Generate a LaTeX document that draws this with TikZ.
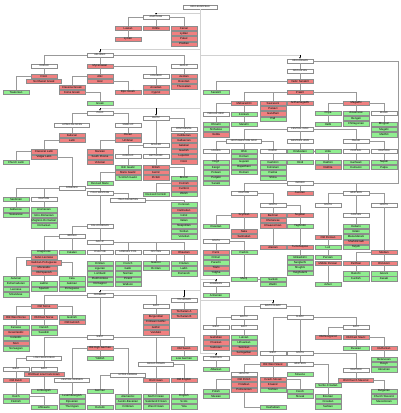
\documentclass[tikz,border=0pt]{standalone}
\usepackage{fontspec}
\setmainfont{Liberation Sans}
\usetikzlibrary{arrows.meta}
\definecolor{dead}{RGB}{240,128,128}
\definecolor{live}{RGB}{144,238,144}
\begin{document}
\begin{tikzpicture}[x=1mm,y=-1mm,
    box/.style={draw=black!45,line width=0.25mm,minimum width=26.5mm,
      minimum height=4.5mm,inner sep=0.2mm,font=\fontsize{8}{9}\selectfont},
    dead/.style={box,fill=dead},
    live/.style={box,fill=live},
    group/.style={box,fill=white,font=\fontsize{6.5}{7}\selectfont},
    wide/.style={minimum width=35mm},
    link/.style={draw=black!40,line width=0.3mm},
    trunk/.style={draw=black!18,line width=0.8mm},
    drop/.style={draw=black,line width=0.25mm,-{Triangle[length=1.4mm,width=1.4mm]}}]
  \fill[white] (0,0) rectangle (400,413);

  \node[group,minimum width=34mm] (root) at (200,7) {INDO-EUROPEAN};
  \coordinate (anat-in) at (156,13);
  \coordinate (hell-in) at (100,49);
  \coordinate (ii-in) at (300,55);
  \coordinate (ital-in) at (100,108);
  \coordinate (celt-in) at (156,108);
  \coordinate (arm-in) at (216,279);
  \coordinate (germ-in) at (100,290);
  \coordinate (toch-in) at (184,290);
  \coordinate (bs-in) at (273,300);
  \coordinate (alb-in) at (216,353);
  \coordinate (trunk-end) at (200,353);
  \draw[trunk] (root.south) -- (trunk-end) -- (alb-in);
  \draw[trunk] (root.south |- anat-in) -- (anat-in);
  \draw[trunk] (root.south |- hell-in) -- (hell-in);
  \draw[trunk] (root.south |- ii-in) -- (ii-in);
  \draw[trunk] (root.south |- ital-in) -- (ital-in);
  \draw[trunk] (root.south |- arm-in) -- (arm-in);
  \draw[trunk] (root.south |- germ-in) -- (germ-in);
  \draw[trunk] (root.south |- bs-in) -- (bs-in);

  % Anatolian
  \node[group] (anatolian) at (156,17) {ANATOLIAN};
  \node[dead] (luwian) at (128,28) {Luwian};
  \node[dead] (hittite) at (156,28) {Hittite};
  \node[dead] (lycian) at (128,39) {Lycian};
  \foreach \cl/\lb [count=\i from 0] in {dead/Carian,dead/Lydian,dead/Palaic,dead/Pisidian}
    \node[box,fill=\cl] (carian-\i) at (184,{28+5.3*\i}) {\lb};
  \draw[drop] (anat-in) -- (anatolian);
  \draw[link] (anatolian) -- (hittite);
  \draw[link] (anatolian.west) -| (luwian);
  \draw[link] (anatolian.east) -| (carian-0);
  \draw[link] (luwian) -- (lycian);

  % Hellenic
  \node[group] (hellenic) at (100,55) {HELLENIC};
  \node[group] (dorian) at (44,66) {DORIAN};
  \node[dead] (mycenaean) at (100,66) {Mycenaean};
  \node[group] (aeolic) at (184,66) {AEOLIC};
  \node[group] (achaean) at (156,76) {ACHAEAN};
  \node[dead] (doric) at (44,76) {Doric};
  \node[dead,wide] (nwgreek) at (44,81.3) {Northwest Greek};
  \node[live] (tsakonian) at (16,92) {Tsakonian};
  \foreach \cl/\lb [count=\i from 0] in {dead/Attic,dead/Ionic}
    \node[box,fill=\cl] (attic-\i) at (100,{76+5.3*\i}) {\lb};
  \foreach \cl/\lb [count=\i from 0] in {dead/Classical Greek,dead/Koine Greek}
    \node[box,fill=\cl] (koine-\i) at (72,{87+5.3*\i}) {\lb};
  \node[dead] (epic) at (128,92) {Epic Greek};
  \node[live] (greek) at (100,103) {Greek};
  \foreach \cl/\lb [count=\i from 0] in {dead/Arcadian,dead/Cypriot}
    \node[box,fill=\cl] (arcadian-\i) at (156,{87+5.3*\i}) {\lb};
  \foreach \cl/\lb [count=\i from 0] in {dead/Aeolian,dead/Boeotian,dead/Thessalian}
    \node[box,fill=\cl] (aeolian-\i) at (184,{76+5.3*\i}) {\lb};
  \draw[drop] (hell-in) -- (hellenic);
  \draw[link] (hellenic.west) -| (dorian);
  \draw[link] (hellenic) -- (mycenaean);
  \draw[link] (hellenic.east) -| (aeolic);
  \draw[link] (mycenaean.east) -| (achaean);
  \draw[link] (mycenaean) -- (attic-0);
  \draw[link] (dorian) -- (doric);
  \draw[link] (doric.west) -| (tsakonian);
  \draw[link] (attic-0.west) -| (koine-0);
  \draw[link] (attic-1.east) -| (epic);
  \draw[link] (koine-1.east) -| (greek);
  \draw[link] (achaean) -- (arcadian-0);
  \draw[link] (aeolic) -- (aeolian-0);

  % Italic
  \node[group] (italic) at (100,113) {ITALIC};
  \node[group,wide] (latfal) at (72,125) {LATINO-FALISCAN};
  \node[group] (sabellic) at (128,125) {SABELLIC};
  \foreach \cl/\lb [count=\i from 0] in {dead/Faliscan,dead/Latin}
    \node[box,fill=\cl] (latin-\i) at (72,{135+5.3*\i}) {\lb};
  \foreach \cl/\lb [count=\i from 0] in {dead/Classical Latin,dead/Vulgar Latin}
    \node[box,fill=\cl] (vulgar-\i) at (44,{151.6+5.3*\i}) {\lb};
  \node[live] (church) at (16,162) {Church Latin};
  \foreach \cl/\lb [count=\i from 0] in {dead/Oscan,dead/Umbrian}
    \node[box,fill=\cl] (oscan-\i) at (128,{135+5.3*\i}) {\lb};
  \foreach \cl/\lb [count=\i from 0] in {dead/Marsian,dead/South Picene,dead/Volscian}
    \node[box,fill=\cl] (volscian-\i) at (100,{151.6+5.3*\i}) {\lb};
  \draw[drop] (ital-in) -- (italic);
  \draw[link] (italic.west) -| (latfal);
  \draw[link] (italic.east) -| (sabellic);
  \draw[link] (latfal) -- (latin-0);
  \draw[link] (latin-1.west) -| (vulgar-0);
  \draw[link] (vulgar-0.west) -| (church);
  \draw[link] (sabellic) -- (oscan-0);
  \draw[link] (oscan-1.west) -| (volscian-0);

  % Celtic
  \node[group] (celtic) at (156,118) {CELTIC};
  \node[group] (continental) at (184,129) {CONTINENTAL};
  \node[group] (insular) at (156,145) {INSULAR};
  \foreach \cl/\lb [count=\i from 0] in {dead/Celtiberian,dead/Gallaecian,dead/Galatian,dead/Gaulish,dead/Lepontic,dead/Noric}
    \node[box,fill=\cl] (gaulish-\i) at (184,{135+5.3*\i}) {\lb};
  \node[group] (goidelic) at (128,156) {GOIDELIC};
  \node[group] (brythonic) at (156,156) {BRYTHONIC};
  \foreach \cl/\lb [count=\i from 0] in {live/Irish Gaelic,dead/Manx Gaelic,live/Scottish Gaelic}
    \node[box,fill=\cl] (gaelic-\i) at (128,{167+5.3*\i}) {\lb};
  \node[live] (revmanx) at (100,183) {Revived Manx};
  \foreach \cl/\lb [count=\i from 0] in {dead/British,dead/Ivernic,dead/Pictish}
    \node[box,fill=\cl] (british-\i) at (156,{167+5.3*\i}) {\lb};
  \foreach \cl/\lb [count=\i from 0] in {live/Breton,dead/Cornish,dead/Cumbric,live/Welsh}
    \node[box,fill=\cl] (welsh-\i) at (184,{178+5.3*\i}) {\lb};
  \node[live] (revcornish) at (156,194) {Revived Cornish};
  \draw[drop] (celt-in) -- (celtic);
  \draw[link] (celtic.east) -| (continental);
  \draw[link] (continental) -- (gaulish-0);
  \draw[link] (celtic) -- (insular);
  \draw[link] (insular.west) -| (goidelic);
  \draw[link] (insular) -- (brythonic);
  \draw[link] (goidelic) -- (gaelic-0);
  \draw[link] (gaelic-1.west) -| (revmanx);
  \draw[link] (brythonic) -- (british-0);
  \draw[link] (british-0.east) -| (welsh-0);
  \draw[link] (welsh-1.west) -| (revcornish);

  % Romance
  \node[group] (romance) at (72,188) {ROMANCE};
  \node[live] (sardinian) at (16,199) {Sardinian};
  \node[group] (eastrom) at (44,199) {EASTERN};
  \foreach \cl/\lb [count=\i from 0] in {live/Gallurese,live/Sassarese}
    \node[box,fill=\cl] (sassarese-\i) at (16,{209.7+5.3*\i}) {\lb};
  \foreach \cl/\lb [count=\i from 0] in {live/Aromanian,live/Istro-Romanian,live/Megleno-Romanian,live/Romanian}
    \node[box,fill=\cl] (romanian-\i) at (44,{209.7+5.3*\i}) {\lb};
  \node[group] (itwest) at (100,193) {ITALO-WESTERN};
  \node[group,wide] (itdal) at (128,200) {ITALO-DALMATIAN};
  \foreach \cl/\lb [count=\i from 0] in {live/Corsican,dead/Dalmatian,live/Istriot,live/Italian,live/Neapolitan,live/Sicilian,live/Venetian}
    \node[box,fill=\cl] (italian-\i) at (184,{204.7+5.3*\i}) {\lb};
  \node[group] (galib) at (100,226) {GALLO-IBERIAN};
  \node[group] (iberian) at (72,236) {IBERIAN};
  \node[group] (gallic) at (100,242) {GALLIC};
  \node[group] (cisalpine) at (100,252) {CISALPINE};
  \node[group] (oil) at (128,252) {LANGUES D'OÏL};
  \node[group] (occitano) at (156,252) {OCCITAN};
  \node[dead] (rhaetian) at (184,252) {Rhaetian};
  \foreach \cl/\lb [count=\i from 0] in {live/Emilian,live/Ligurian,live/Lombard,live/Piedmontese,live/Romagnol}
    \node[box,fill=\cl] (lombard-\i) at (100,{263+5.3*\i}) {\lb};
  \foreach \cl/\lb [count=\i from 0] in {live/French,live/Gallo,live/Norman,live/Picard,live/Walloon}
    \node[box,fill=\cl] (french-\i) at (128,{263+5.3*\i}) {\lb};
  \foreach \cl/\lb [count=\i from 0] in {live/Gascon,live/Occitan}
    \node[box,fill=\cl] (occitan-\i) at (156,{263+5.3*\i}) {\lb};
  \foreach \cl/\lb [count=\i from 0] in {live/Friulian,live/Ladin,live/Romansh}
    \node[box,fill=\cl] (ladin-\i) at (184,{263+5.3*\i}) {\lb};
  \node[live] (aragonese) at (44,252) {Aragonese};
  \node[live] (catalan) at (72,252) {Catalan};
  \node[dead] (asturleon) at (44,257.3) {Astur-Leonese};
  \node[dead,wide] (galport) at (44,262.6) {Galician-Portuguese};
  \node[dead] (mozarabic) at (44,267.9) {Mozarabic};
  \node[dead] (oldspanish) at (44,273.2) {Old Spanish};
  \foreach \cl/\lb [count=\i from 0] in {live/Asturian,live/Extremaduran,live/Leonese,live/Mirandese}
    \node[box,fill=\cl] (leonese-\i) at (16,{278.5+5.3*\i}) {\lb};
  \foreach \cl/\lb [count=\i from 0] in {live/Fala,live/Galician,live/Portuguese}
    \node[box,fill=\cl] (galician-\i) at (72,{278.5+5.3*\i}) {\lb};
  \foreach \cl/\lb [count=\i from 0] in {live/Ladino,live/Spanish}
    \node[box,fill=\cl] (spanish-\i) at (44,{283.7+5.3*\i}) {\lb};
  \draw[link] (vulgar-1.east) -| (romance);
  \draw[link] (romance.west) -| (sardinian);
  \draw[link] (eastrom) |- (romance.west);
  \draw[link] (romance.east) -| (itwest);
  \draw[link] (sardinian) -- (sassarese-0);
  \draw[link] (eastrom) -- (romanian-0);
  \draw[link] (itwest.east) -| (itdal);
  \draw[link] (itdal.east) -| (italian-0);
  \draw[link] (itwest) -- (galib);
  \draw[link] (galib.west) -| (iberian);
  \draw[link] (galib) -- (gallic);
  \draw[link] (gallic) -- (cisalpine);
  \draw[link] (gallic.east) -| (oil);
  \draw[link] (gallic.east) -| (occitano);
  \draw[link] (gallic.east) -| (rhaetian);
  \draw[link] (cisalpine) -- (lombard-0);
  \draw[link] (oil) -- (french-0);
  \draw[link] (occitano) -- (occitan-0);
  \draw[link] (rhaetian) -- (ladin-0);
  \draw[link] (iberian.west) -| (aragonese);
  \draw[link] (iberian) -- (catalan);
  \draw[link] (asturleon.west) -| (leonese-0);
  \draw[link] (galport.east) -| (galician-0);
  \draw[link] (oldspanish) -- (spanish-0);

  % Germanic
  \node[group] (germanic) at (100,295) {GERMANIC};
  \node[dead] (oldnorse) at (44,306) {Old Norse};
  \node[group] (eastgerm) at (156,306) {EAST};
  \node[dead] (oldwest) at (16,317) {Old West Norse};
  \node[dead] (oldeast) at (44,317) {Old East Norse};
  \foreach \cl/\lb [count=\i from 0] in {live/Gutnish,dead/Old Gutnish}
    \node[box,fill=\cl] (gutnish-\i) at (72,{317+5.3*\i}) {\lb};
  \foreach \cl/\lb [count=\i from 0] in {live/Faroese,dead/Greenlandic,live/Icelandic,dead/Norn,live/Norwegian}
    \node[box,fill=\cl] (norse-\i) at (16,{327.3+5.3*\i}) {\lb};
  \foreach \cl/\lb [count=\i from 0] in {live/Danish,live/Swedish}
    \node[box,fill=\cl] (swedish-\i) at (44,{327.3+5.3*\i}) {\lb};
  \foreach \cl/\lb [count=\i from 0] in {dead/Burgundian,dead/Crimean Gothic,dead/Gothic,dead/Vandalic}
    \node[box,fill=\cl] (gothic-\i) at (156,{316.6+5.3*\i}) {\lb};
  \node[group] (westgerm) at (100,337) {WEST};
  \node[dead] (ohg) at (100,348) {Old High German};
  \node[live] (yiddish) at (100,358.3) {Yiddish};
  \node[dead] (oldsaxon) at (184,348) {Old Saxon};
  \node[live] (lowgerman) at (184,358.3) {Low German};
  \node[group,wide] (angfris) at (156,364) {ANGLO-FRISIAN};
  \node[dead] (oldfrisian) at (156,380) {Old Frisian};
  \node[dead] (oldenglish) at (184,380) {Old English};
  \foreach \cl/\lb [count=\i from 0] in {live/North Frisian,live/Saterland Frisian,live/West Frisian}
    \node[box,fill=\cl] (frisian-\i) at (156,{396+5.3*\i}) {\lb};
  \foreach \cl/\lb [count=\i from 0] in {live/English,live/Scots,live/Yola}
    \node[box,fill=\cl] (english-\i) at (184,{396+5.3*\i}) {\lb};
  \node[group,wide] (lowfranc) at (44,358) {LOW FRANCONIAN};
  \node[group] (lfwest) at (16,369) {WEST};
  \node[group] (lfeast) at (44,369) {EAST};
  \node[dead,minimum width=40mm] (oldlimb) at (44,374.3) {Old East Low Franconian};
  \node[dead] (olddutch) at (16,380) {Old Dutch};
  \node[live] (limburgish) at (44,391) {Limburgish};
  \foreach \cl/\lb [count=\i from 0] in {live/Dutch,live/Flemish}
    \node[box,fill=\cl] (dutch-\i) at (16,{396+5.3*\i}) {\lb};
  \node[live] (afrikaans) at (44,407) {Afrikaans};
  \node[group,wide] (centralg) at (72,380) {CENTRAL GERMAN};
  \foreach \cl/\lb [count=\i from 0] in {live/Luxembourgish,live/Ripuarian,live/Thuringian}
    \node[box,fill=\cl] (ripuarian-\i) at (72,{396+5.3*\i}) {\lb};
  \node[group,wide] (upperg) at (128,375) {UPPER GERMAN};
  \node[live] (german) at (100,391) {German};
  \node[live] (hunsrik) at (100,407) {Hunsrik};
  \foreach \cl/\lb [count=\i from 0] in {live/Alemannic,live/Austro-Bavarian,live/Cimbrian}
    \node[box,fill=\cl] (alemannic-\i) at (128,{396+5.3*\i}) {\lb};
  \draw[drop] (germ-in) -- (germanic);
  \draw[link] (germanic.west) -| (oldnorse);
  \draw[link] (germanic.east) -| (eastgerm);
  \draw[link] (germanic) -- (westgerm);
  \draw[link] (oldnorse.west) -| (oldwest);
  \draw[link] (oldnorse) -- (oldeast);
  \draw[link] (oldnorse.east) -| (gutnish-0);
  \draw[link] (oldwest) -- (norse-0);
  \draw[link] (oldeast) -- (swedish-0);
  \draw[link] (eastgerm) -- (gothic-0);
  \draw[link] (westgerm) -- (ohg);
  \draw[link] (ohg) -- (yiddish);
  \draw[link] (westgerm.west) -| (lowfranc);
  \draw[link] (westgerm.east) -| (oldsaxon);
  \draw[link] (westgerm.east) -| (angfris);
  \draw[link] (oldsaxon) -- (lowgerman);
  \draw[link] (angfris) -- (oldfrisian);
  \draw[link] (angfris.east) -| (oldenglish);
  \draw[link] (oldfrisian) -- (frisian-0);
  \draw[link] (oldenglish) -- (english-0);
  \draw[link] (lowfranc.west) -| (lfwest);
  \draw[link] (lowfranc) -- (lfeast);
  \draw[link] (lfwest) -- (olddutch);
  \draw[link] (oldlimb) -- (limburgish);
  \draw[link] (olddutch) -- (dutch-0);
  \draw[link] (dutch-0.east) -| (afrikaans);
  \draw[link] (ohg.west) -| (centralg);
  \draw[link] (ohg.east) -| (upperg);
  \draw[link] (centralg) -- (ripuarian-0);
  \draw[link] (upperg) -- (alemannic-0);
  \draw[link] (upperg.west) -| (german);
  \draw[link] (german) -- (hunsrik);

  % Tocharian, Armenian, Albanian
  \node[group] (tocharian) at (184,300) {TOCHARIAN};
  \foreach \cl/\lb [count=\i from 0] in {dead/Tocharian A,dead/Tocharian B}
    \node[box,fill=\cl] (tocharian-\i) at (184,{311+5.3*\i}) {\lb};
  \draw[drop] (toch-in) -- (tocharian);
  \draw[link] (tocharian) -- (tocharian-0);
  \node[group] (armenianh) at (216,284) {ARMENIAN};
  \node[live] (armenian) at (216,295) {Armenian};
  \draw[drop] (arm-in) -- (armenianh);
  \draw[link] (armenianh) -- (armenian);
  \node[group] (albanianh) at (216,358) {ALBANIAN};
  \node[live] (albanian) at (216,369) {Albanian};
  \draw[drop] (alb-in) -- (albanianh);
  \draw[link] (albanianh) -- (albanian);

  % Balto-Slavic
  \node[group] (baltoslavic) at (273,306) {BALTO-SLAVIC};
  \node[group] (baltic) at (244,317) {BALTIC};
  \node[group] (slavic) at (300,317) {SLAVIC};
  \node[group] (bwest) at (216,327) {WEST};
  \node[group] (beast) at (244,327) {EAST};
  \foreach \cl/\lb [count=\i from 0] in {dead/Galindian,dead/Prussian,dead/Sudovian}
    \node[box,fill=\cl] (prussian-\i) at (216,{337.3+5.3*\i}) {\lb};
  \foreach \cl/\lb [count=\i from 0] in {live/Latvian,live/Lithuanian,dead/Selonian,dead/Semigallian}
    \node[box,fill=\cl] (latvian-\i) at (244,{337.3+5.3*\i}) {\lb};
  \node[group] (seast) at (356,327) {EAST};
  \node[dead] (novgorod) at (328,337) {Old Novgorod};
  \node[dead] (oes) at (356,337) {Old East Slavic};
  \node[live] (russian) at (356,348) {Russian};
  \node[dead] (ruthenian) at (384,348) {Ruthenian};
  \foreach \cl/\lb [count=\i from 0] in {live/Belarusian,live/Rusyn,live/Ukrainian}
    \node[box,fill=\cl] (ukrainian-\i) at (384,{359+5.3*\i}) {\lb};
  \node[group] (swest) at (273,353) {WEST};
  \node[group] (ssouth) at (300,353) {SOUTH};
  \node[dead] (oldwests) at (273,364) {Old West Slavic};
  \node[group] (swestern) at (300,364) {WESTERN};
  \node[live] (slovene) at (300,374.3) {Slovene};
  \node[group] (seastern) at (356,370) {EASTERN};
  \node[group] (lechitic) at (244,374) {LECHITIC};
  \foreach \cl/\lb [count=\i from 0] in {dead/Old Polish,dead/Polabian,dead/Pomeranian}
    \node[box,fill=\cl] (polabian-\i) at (244,{379.3+5.3*\i}) {\lb};
  \foreach \cl/\lb [count=\i from 0] in {dead/Czech-Slovak,dead/Knaanic,live/Sorbian}
    \node[box,fill=\cl] (sorbian-\i) at (273,{379.3+5.3*\i}) {\lb};
  \foreach \cl/\lb [count=\i from 0] in {live/Czech,live/Slovak}
    \node[box,fill=\cl] (czech-\i) at (300,{391+5.3*\i}) {\lb};
  \foreach \cl/\lb [count=\i from 0] in {live/Polish,live/Silesian}
    \node[box,fill=\cl] (polish-\i) at (216,{391+5.3*\i}) {\lb};
  \node[live] (kashubian) at (273,407) {Kashubian};
  \node[dead,wide] (ocs) at (356,380) {Old Church Slavonic};
  \node[live] (serbocroat) at (328,385) {Serbo-Croatian};
  \foreach \cl/\lb [count=\i from 0] in {live/Bosnian,live/Croatian,live/Serbian}
    \node[box,fill=\cl] (serbian-\i) at (328,{396+5.3*\i}) {\lb};
  \foreach \cl/\lb [count=\i from 0] in {live/Bulgarian,live/Church Slavonic,live/Macedonian}
    \node[box,fill=\cl] (bulgarian-\i) at (384,{391+5.3*\i}) {\lb};
  \draw[drop] (bs-in) -- (baltoslavic);
  \draw[link] (baltoslavic.west) -| (baltic);
  \draw[link] (baltoslavic.east) -| (slavic);
  \draw[link] (baltic.west) -| (bwest);
  \draw[link] (baltic) -- (beast);
  \draw[link] (bwest) -- (prussian-0);
  \draw[link] (beast) -- (latvian-0);
  \draw[link] (slavic.east) -| (seast);
  \draw[link] (slavic.west) -| (swest);
  \draw[link] (slavic) -- (ssouth);
  \draw[link] (seast.west) -| (novgorod);
  \draw[link] (seast) -- (oes);
  \draw[link] (oes) -- (russian);
  \draw[link] (oes.east) -| (ruthenian);
  \draw[link] (ruthenian) -- (ukrainian-0);
  \draw[link] (swest) -- (oldwests);
  \draw[link] (oldwests.west) -| (lechitic);
  \draw[link] (oldwests) -- (sorbian-0);
  \draw[link] (sorbian-0.east) -| (czech-0);
  \draw[link] (lechitic) -- (polabian-0);
  \draw[link] (polabian-0.west) -| (polish-0);
  \draw[link] (polabian-2) |- (kashubian);
  \draw[link] (ssouth) -- (swestern);
  \draw[link] (ssouth.east) -| (seastern);
  \draw[link] (swestern.east) -| (serbocroat);
  \draw[link] (serbocroat) -- (serbian-0);
  \draw[link] (seastern) -- (ocs);
  \draw[link] (ocs.east) -| (bulgarian-0);

  % Indo-Iranian
  \node[group] (indoiranian) at (300,61) {INDO-IRANIAN};
  \node[group] (indoaryan) at (300,71) {INDO-ARYAN};
  \node[dead] (vedic) at (300,81) {Vedic Sanskrit};
  \node[live] (sanskrit) at (216,92) {Sanskrit};
  \node[dead] (prakrit) at (300,92) {Prakrit};
  \node[dead] (maharashtri) at (244,103) {Maharashtri};
  \foreach \cl/\lb [count=\i from 0] in {dead/Sauraseni,dead/Paisaci,dead/Gandhari,live/Pali}
    \node[box,fill=\cl] (pali-\i) at (273,{103+5.3*\i}) {\lb};
  \node[dead] (ardha) at (300,103) {Ardhamagadhi};
  \node[dead] (magadhi) at (356,103) {Magadhi};
  \node[group] (insularind) at (216,114) {INSULAR INDIC};
  \node[live] (konkani) at (244,114) {Konkani};
  \node[live] (marathi) at (244,124) {Marathi};
  \foreach \cl/\lb [count=\i from 0] in {live/Dhivehi,live/Sinhalese,dead/Vedda}
    \node[box,fill=\cl] (sinhalese-\i) at (216,{124+5.3*\i}) {\lb};
  \node[live] (oriya) at (328,113) {Oriya};
  \node[live] (halbi) at (328,124) {Halbi};
  \foreach \cl/\lb [count=\i from 0] in {live/Assamese,live/Bengali,live/Chittagonian}
    \node[box,fill=\cl] (bengali-\i) at (356,{113+5.3*\i}) {\lb};
  \node[group] (bihari) at (384,113) {BIHARI};
  \foreach \cl/\lb [count=\i from 0] in {live/Bhojpuri,live/Magahi,live/Maithili}
    \node[box,fill=\cl] (maithili-\i) at (384,{124+5.3*\i}) {\lb};
  \node[group] (centralind) at (300,129) {CENTRAL INDIC};
  \draw[drop] (ii-in) -- (indoiranian);
  \draw[link] (indoiranian) -- (indoaryan);
  \draw[link] (indoaryan) -- (vedic);
  \draw[link] (vedic.west) -| (sanskrit);
  \draw[link] (vedic) -- (prakrit);
  \draw[link] (prakrit.west) -| (maharashtri);
  \draw[link] (prakrit.west) -| (pali-0);
  \draw[link] (prakrit) -- (ardha);
  \draw[link] (prakrit.east) -| (magadhi);
  \draw[link] (maharashtri) -- (konkani);
  \draw[link] (konkani) -- (marathi);
  \draw[link] (maharashtri.west) -| (insularind);
  \draw[link] (insularind) -- (sinhalese-0);
  \draw[link] (magadhi.west) -| (oriya);
  \draw[link] (oriya) -- (halbi);
  \draw[link] (magadhi) -- (bengali-0);
  \draw[link] (magadhi.east) -| (bihari);
  \draw[link] (bihari) -- (maithili-0);
  \draw[link] (ardha) -- (centralind);

  \node[group,wide] (nwindic) at (244,141) {NORTHWESTERN INDIC};
  \node[group] (whindi) at (300,141) {WESTERN HINDI};
  \node[group] (pahari) at (356,141) {PAHARI};
  \node[group] (lahnda) at (216,151) {LAHNDA};
  \foreach \cl/\lb [count=\i from 0] in {live/Bhili,live/Domari,live/Gujarati,live/Rajasthani,live/Romani}
    \node[box,fill=\cl] (gujarati-\i) at (244,{151+5.3*\i}) {\lb};
  \node[group] (dardic) at (273,151) {DARDIC};
  \node[live] (hindustani) at (300,151) {Hindustani};
  \node[live] (hindi) at (300,162) {Hindi};
  \node[live] (urdu) at (328,151) {Urdu};
  \foreach \cl/\lb [count=\i from 0] in {live/Dakhini,dead/Rekhta}
    \node[box,fill=\cl] (rekhta-\i) at (328,{162+5.3*\i}) {\lb};
  \node[group] (pcentral) at (356,151) {CENTRAL};
  \node[group] (peastern) at (384,151) {EASTERN};
  \foreach \cl/\lb [count=\i from 0] in {live/Garhwali,live/Kumaoni}
    \node[box,fill=\cl] (kumaoni-\i) at (356,{162+5.3*\i}) {\lb};
  \foreach \cl/\lb [count=\i from 0] in {live/Nepali,live/Palpa}
    \node[box,fill=\cl] (nepali-\i) at (384,{162+5.3*\i}) {\lb};
  \foreach \cl/\lb [count=\i from 0] in {live/Dogri,live/Kangri,live/Potwari,live/Punjabi,live/Saraiki}
    \node[box,fill=\cl] (punjabi-\i) at (216,{162+5.3*\i}) {\lb};
  \foreach \cl/\lb [count=\i from 0] in {live/Kashmiri,live/Kohistani,live/Pashai,live/Shina}
    \node[box,fill=\cl] (shina-\i) at (273,{162+5.3*\i}) {\lb};
  \draw[link] (centralind.west) -| (nwindic);
  \draw[link] (centralind) -- (whindi);
  \draw[link] (centralind.east) -| (pahari);
  \draw[link] (nwindic.west) -| (lahnda);
  \draw[link] (nwindic) -- (gujarati-0);
  \draw[link] (nwindic.east) -| (dardic);
  \draw[link] (whindi) -- (hindustani);
  \draw[link] (hindustani) -- (urdu);
  \draw[link] (hindustani) -- (hindi);
  \draw[link] (urdu) -- (rekhta-0);
  \draw[link] (pahari) -- (pcentral);
  \draw[link] (pahari.east) -| (peastern);
  \draw[link] (pcentral) -- (kumaoni-0);
  \draw[link] (peastern) -- (nepali-0);
  \draw[link] (lahnda) -- (punjabi-0);
  \draw[link] (dardic) -- (shina-0);

  % Iranian
  \node[group] (iranian) at (300,183) {IRANIAN};
  \coordinate (ii-edge) at (398,183);
  \draw[link] (indoiranian.east) -| (ii-edge) -- (iranian.east);
  \node[dead] (avestan) at (300,193) {Avestan};
  \node[group] (eastir) at (244,193) {EASTERN};
  \node[group] (westir) at (356,193) {WESTERN};
  \node[group] (enorth) at (273,205) {NORTH};
  \node[dead] (scythian) at (244,215) {Scythian};
  \foreach \cl/\lb [count=\i from 0] in {dead/Bactrian,dead/Khotanese,dead/Khwarezmian}
    \node[box,fill=\cl] (bactrian-\i) at (273,{215+5.3*\i}) {\lb};
  \node[dead] (sogdian) at (300,215) {Sogdian};
  \node[live] (yaghnobi) at (300,226) {Yaghnobi};
  \node[dead] (tumshuqese) at (300,247) {Tumshuqese};
  \node[live] (ossetian) at (216,226) {Ossetian};
  \foreach \cl/\lb [count=\i from 0] in {dead/Saka,dead/Sarmatian}
    \node[box,fill=\cl] (saka-\i) at (244,{231+5.3*\i}) {\lb};
  \node[dead] (alanian) at (273,247) {Alanian};
  \node[group] (esouth) at (216,241) {SOUTH};
  \foreach \cl/\lb [count=\i from 0] in {dead/Parni,live/Ormuri,live/Parachi,dead/Tirahi,live/Yidgha}
    \node[box,fill=\cl] (parachi-\i) at (216,{252+5.3*\i}) {\lb};
  \node[live] (pashto) at (244,252) {Pashto};
  \node[live] (munji) at (244,279) {Munji};
  \foreach \cl/\lb [count=\i from 0] in {live/Sarikoli,live/Wakhi}
    \node[box,fill=\cl] (wakhi-\i) at (273,{279+5.3*\i}) {\lb};
  \foreach \cl/\lb [count=\i from 0] in {live/Ishkashimi,live/Sanglechi,live/Shughni,live/Yazghulami}
    \node[box,fill=\cl] (shughni-\i) at (300,{257+5.3*\i}) {\lb};
  \node[group] (wsouth) at (328,205) {SOUTH};
  \node[group] (wnorth) at (384,205) {NORTH};
  \node[group] (caspian) at (356,215) {CASPIAN};
  \foreach \cl/\lb [count=\i from 0] in {live/Deilami,live/Gilaki,live/Mazanderani,dead/Shahmirzadi,live/Talysh}
    \node[box,fill=\cl] (gilaki-\i) at (356,{226+5.3*\i}) {\lb};
  \node[dead] (oldpersian) at (328,237) {Old Persian};
  \node[live] (luri) at (328,247) {Luri};
  \node[live] (persian) at (328,257) {Persian};
  \node[dead] (midpersian) at (328,263) {Middle Persian};
  \node[dead] (median) at (384,252) {Median};
  \node[dead] (parthian) at (356,263) {Parthian};
  \node[dead] (oldazeri) at (384,263) {Old Azeri};
  \foreach \cl/\lb [count=\i from 0] in {live/Balochi,live/Kurdish}
    \node[box,fill=\cl] (kurdish-\i) at (356,{273.5+5.3*\i}) {\lb};
  \foreach \cl/\lb [count=\i from 0] in {live/Gorani,live/Zazaki}
    \node[box,fill=\cl] (zazaki-\i) at (384,{273.5+5.3*\i}) {\lb};
  \node[live] (juhuro) at (328,284) {Juhuri};
  \draw[link] (iranian) -- (avestan);
  \draw[link] (iranian.west) -| (eastir);
  \draw[link] (iranian.east) -| (westir);
  \draw[link] (eastir.east) -| (enorth);
  \draw[link] (eastir) -- (scythian);
  \draw[link] (enorth) -- (bactrian-0);
  \draw[link] (enorth.east) -| (sogdian);
  \draw[link] (sogdian) -- (yaghnobi);
  \draw[link] (yaghnobi) -- (tumshuqese);
  \draw[link] (tumshuqese) -- (shughni-0);
  \draw[link] (scythian.west) -| (ossetian);
  \draw[link] (scythian) -- (saka-0);
  \draw[link] (bactrian-2) -- (alanian);
  \draw[link] (esouth) -- (parachi-0);
  \draw[link] (esouth.east) -| (pashto);
  \draw[link] (pashto) -- (munji);
  \draw[link] (munji) -- (wakhi-0);
  \draw[link] (westir.west) -| (wsouth);
  \draw[link] (westir.east) -| (wnorth);
  \draw[link] (westir) -- (caspian);
  \draw[link] (caspian) -- (gilaki-0);
  \draw[link] (wsouth) -- (oldpersian);
  \draw[link] (oldpersian) -- (luri);
  \draw[link] (luri) -- (persian);
  \draw[link] (wnorth) -- (median);
  \draw[link] (median) -- (oldazeri);
  \draw[link] (median.west) -| (parthian);
  \draw[link] (parthian) -- (kurdish-0);
  \draw[link] (oldazeri) -- (zazaki-0);
  \draw[link] (midpersian) -- (juhuro);
\end{tikzpicture}
\end{document}
